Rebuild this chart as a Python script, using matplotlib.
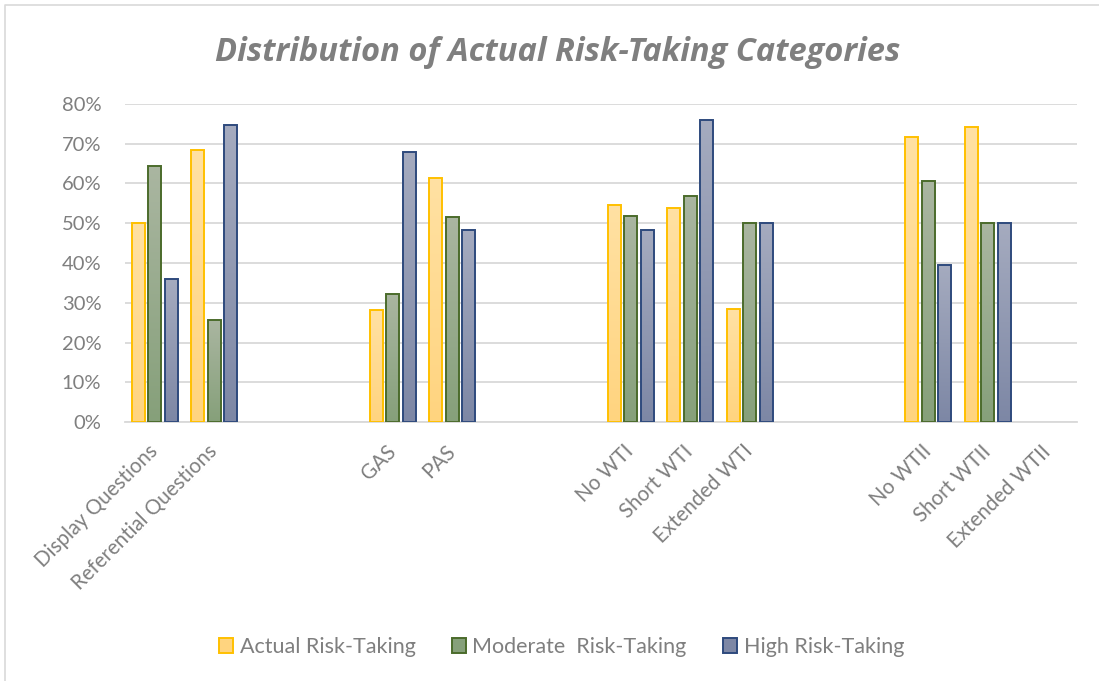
import matplotlib.pyplot as plt
import numpy as np
from matplotlib.colors import LinearSegmentedColormap
from matplotlib.patches import Patch
from matplotlib.lines import Line2D
from matplotlib.ticker import PercentFormatter
from matplotlib.transforms import ScaledTranslation

# blank slots ('') keep the gaps between question groups
categories = ['Display Questions', 'Referential Questions', '', '',
              'GAS', 'PAS', '', '',
              'No WTI', 'Short WTI', 'Extended WTI', '', '',
              'No WTII', 'Short WTII', 'Extended WTII']
actual = [50.0, 68.5, None, None, 28.1, 61.3, None, None,
          54.6, 53.8, 28.5, None, None, 71.8, 74.1, None]
moderate = [64.3, 25.7, None, None, 32.2, 51.6, None, None,
            51.8, 56.9, 50.0, None, None, 60.7, 50.0, None]
high = [35.9, 74.6, None, None, 68.0, 48.4, None, None,
        48.4, 75.9, 50.0, None, None, 39.5, 50.0, None]
series_names = ['Actual Risk-Taking', 'Moderate  Risk-Taking', 'High Risk-Taking']

styles = [
    # top fill, bottom fill, edge
    ('#FFE1A3', '#FFD47F', '#FFC000'),
    ('#AAB6A1', '#86A07A', '#4B6B2B'),
    ('#A5ABBF', '#7D87A5', '#2E4A7D'),
]

plt.rcParams['font.family'] = ['Lato', 'DejaVu Sans']
text_grey = '#7F7F7F'

fig = plt.figure(figsize=(10.99, 6.81), dpi=100)
ax = fig.add_axes([0.1137, 0.3803, 0.8663, 0.4670])

x = np.arange(len(categories))
width = 0.215
step = 0.277

for k, (vals, (top, bottom, edge)) in enumerate(zip([actual, moderate, high], styles)):
    v = np.array([np.nan if a is None else a for a in vals], dtype=float)
    bars = ax.bar(x + (k - 1) * step, np.nan_to_num(v), width, facecolor='none',
                  edgecolor=edge, linewidth=1.4, zorder=3)
    cmap = LinearSegmentedColormap.from_list(f'g{k}', [top, bottom])
    grad = np.linspace(0, 1, 128).reshape(-1, 1)
    for rect, val in zip(bars, v):
        if np.isnan(val):
            rect.set_visible(False)
            continue
        x0 = rect.get_x()
        im = ax.imshow(grad, extent=[x0, x0 + rect.get_width(), 0, val],
                       aspect='auto', cmap=cmap, zorder=2, interpolation='bilinear')
        im.set_clip_path(rect)

ax.set_xlim(-0.5, len(categories) - 0.5)
ax.set_ylim(0, 80)
ax.set_yticks(np.arange(0, 81, 10))
ax.yaxis.set_major_formatter(PercentFormatter(100, decimals=0))
ax.grid(axis='y', color='#D9D9D9', linewidth=1.3, zorder=0)
ax.set_axisbelow(True)
for s in ['top', 'right', 'left']:
    ax.spines[s].set_visible(False)
ax.spines['bottom'].set_color('#D9D9D9')
ax.spines['bottom'].set_linewidth(1.3)

ax.set_xticks(x)
ax.set_xticklabels(categories, rotation=45, ha='right', va='center',
                   rotation_mode='anchor', fontsize=14.8, color=text_grey)
shift = ScaledTranslation(-0.11, 0, fig.dpi_scale_trans)
for lbl in ax.get_xticklabels():
    lbl.set_transform(lbl.get_transform() + shift)
ax.tick_params(axis='x', length=0, pad=19)
ax.tick_params(axis='y', length=0, pad=17, labelsize=14.5, labelcolor=text_grey)

fig.text(0.507, 1 - 61 / 681, 'Distribution of Actual Risk-Taking Categories',
         ha='center', va='baseline', fontsize=23.5, fontweight='bold',
         style='italic', color=text_grey, family=['Open Sans', 'DejaVu Sans'])

handles = [Patch(facecolor=b, edgecolor=e, linewidth=1.4) for _, b, e in styles]
fig.legend(handles, series_names, loc='center', bbox_to_anchor=(0.511, 1 - 647 / 681),
           ncol=3, frameon=False, fontsize=15.5, labelcolor=text_grey,
           handlelength=0.65, handleheight=0.65, handletextpad=0.3, columnspacing=1.7)

# light frame along the top and left edge
fig.add_artist(Line2D([5 / 1099, 5 / 1099, 1.0], [0.0, 1 - 5 / 681, 1 - 5 / 681],
                      transform=fig.transFigure, color='#D9D9D9', linewidth=1.2))

plt.savefig('out.png', dpi=100)
